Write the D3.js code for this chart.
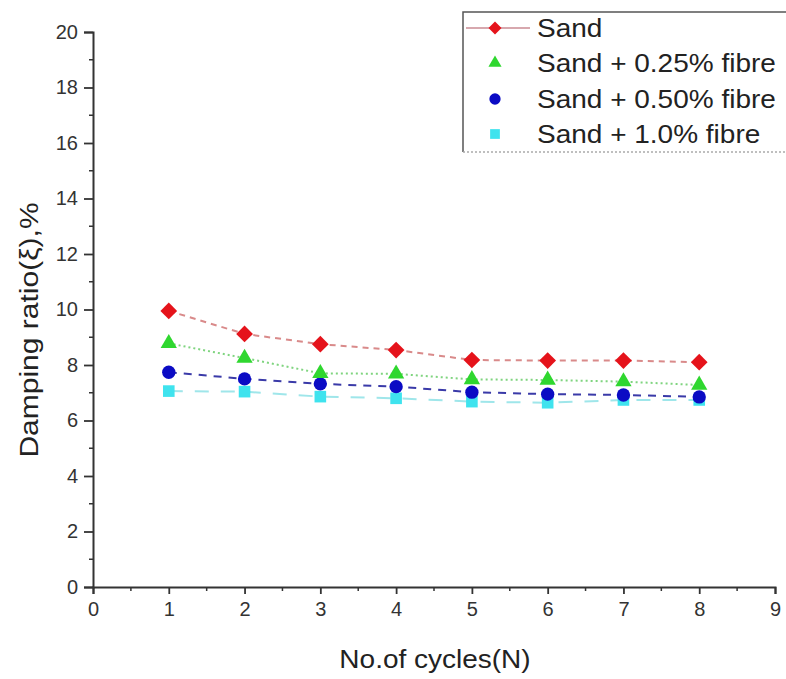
<!DOCTYPE html>
<html>
<head>
<meta charset="utf-8">
<script src="https://cdn.jsdelivr.net/npm/d3@7"></script>
<style>
  body { margin: 0; background: #fff; }
  svg { font-family: "Liberation Sans", Arial, sans-serif; }
</style>
</head>
<body>
<svg id="chart" width="786" height="679"></svg>
<script>
// data
var cycles = [1, 2, 3, 4, 5, 6, 7, 8];
var seriesNames = ['Sand', 'Sand + 0.25% fibre', 'Sand + 0.50% fibre', 'Sand + 1.0% fibre'];
var sand      = [9.95, 9.12, 8.75, 8.54, 8.18, 8.16, 8.16, 8.10];
var fibre025  = [8.78, 8.25, 7.70, 7.68, 7.48, 7.46, 7.40, 7.28];
var fibre050  = [7.74, 7.50, 7.32, 7.22, 7.02, 6.95, 6.92, 6.85];
var fibre100  = [7.06, 7.04, 6.86, 6.80, 6.68, 6.64, 6.74, 6.74];
var xTicks = [0, 1, 2, 3, 4, 5, 6, 7, 8, 9];
var yTicks = [0, 2, 4, 6, 8, 10, 12, 14, 16, 18, 20];

var colors  = ['#e5131b', '#2fd72f', '#0b0bc4', '#3fe3ee'];
var lineCol = ['#d98a8a', '#7fd47f', '#3a3aa8', '#9fe6ea'];
var dashes  = ['6,5', '2,3', '8,7', '14,12'];
var symbols = [d3.symbolSquare, d3.symbolTriangle, d3.symbolCircle, d3.symbolSquare];
var rotate  = [45, 0, 0, 0];
var symSize = [140, 115, 140, 135];
var legSize = [85, 75, 100, 95];

var svg = d3.select('#chart');
var x = d3.scaleLinear().domain([0, 9]).range([93, 775]);
var y = d3.scaleLinear().domain([0, 20]).range([587, 32]);

// axes
var xAxis = d3.axisBottom(x).tickValues(xTicks).tickSize(7).tickPadding(8).tickFormat(d3.format('d'));
var yAxis = d3.axisLeft(y).tickValues(yTicks).tickSize(9).tickPadding(6).tickFormat(d3.format('d'));

var gx = svg.append('g').attr('transform', 'translate(0,587)').call(xAxis);
var gy = svg.append('g').attr('transform', 'translate(93,0)').call(yAxis);

// minor ticks
svg.append('g').selectAll('line')
    .data(d3.range(0.5, 9, 1))
    .enter().append('line')
    .attr('x1', function (d) { return x(d); })
    .attr('x2', function (d) { return x(d); })
    .attr('y1', 587).attr('y2', 591)
    .attr('stroke', '#333').attr('stroke-width', 1.5);
svg.append('g').selectAll('line')
    .data(d3.range(1, 20, 2))
    .enter().append('line')
    .attr('x1', 89).attr('x2', 93)
    .attr('y1', function (d) { return y(d); })
    .attr('y2', function (d) { return y(d); })
    .attr('stroke', '#333').attr('stroke-width', 1.5);

[gx, gy].forEach(function (g) {
    g.select('.domain').attr('stroke', '#333').attr('stroke-width', 2);
    g.selectAll('.tick line').attr('stroke', '#333').attr('stroke-width', 1.8);
    g.selectAll('.tick text').attr('fill', '#333').style('font-size', '20px');
});

// axis titles (the source image is a little stretched along the text)
svg.append('text')
    .attr('transform', 'translate(435,668) scale(1.12,1)')
    .attr('text-anchor', 'middle')
    .style('font-size', '25px').attr('fill', '#222')
    .text('No.of cycles(N)');
svg.append('text')
    .attr('transform', 'translate(38,330) rotate(-90) scale(1.2,1)')
    .attr('text-anchor', 'middle')
    .style('font-size', '25px').attr('fill', '#222')
    .text('Damping ratio(ξ),%');

// series
var allSeries = [sand, fibre025, fibre050, fibre100];
var line = d3.line()
    .x(function (d, i) { return x(cycles[i]); })
    .y(function (d) { return y(d); });

allSeries.forEach(function (vals, s) {
    svg.append('path')
        .datum(vals)
        .attr('fill', 'none')
        .attr('stroke', lineCol[s])
        .attr('stroke-width', 2)
        .attr('stroke-dasharray', dashes[s])
        .attr('d', line);
});

// markers drawn last series first so that Sand sits on top
for (var s = allSeries.length - 1; s >= 0; s--) {
    svg.append('g').selectAll('path')
        .data(allSeries[s])
        .enter().append('path')
        .attr('transform', function (d, i) {
            return 'translate(' + x(cycles[i]) + ',' + y(d) + ') rotate(' + rotate[s] + ')';
        })
        .attr('d', d3.symbol().type(symbols[s]).size(symSize[s]))
        .attr('fill', colors[s]);
}

// legend
var leg = svg.append('g');
leg.append('path')
    .attr('d', 'M786,12 H463 V152')
    .attr('fill', 'none').attr('stroke', '#555').attr('stroke-width', 1.5);
leg.append('line')
    .attr('x1', 463).attr('x2', 786).attr('y1', 152).attr('y2', 152)
    .attr('stroke', '#aaa').attr('stroke-width', 1.5).attr('stroke-dasharray', '2,2');

var legY = [28, 63, 99, 134];
leg.append('line')
    .attr('x1', 466).attr('x2', 530).attr('y1', legY[0]).attr('y2', legY[0])
    .attr('stroke', '#d7a8ae').attr('stroke-width', 2);
seriesNames.forEach(function (name, s) {
    leg.append('path')
        .attr('transform', 'translate(495,' + legY[s] + ') rotate(' + rotate[s] + ')')
        .attr('d', d3.symbol().type(symbols[s]).size(legSize[s]))
        .attr('fill', colors[s]);
    leg.append('text')
        .attr('transform', 'translate(537,' + (legY[s] + 9) + ') scale(1.12,1)')
        .style('font-size', '25px').attr('fill', '#222')
        .text(name);
});
</script>
</body>
</html>
